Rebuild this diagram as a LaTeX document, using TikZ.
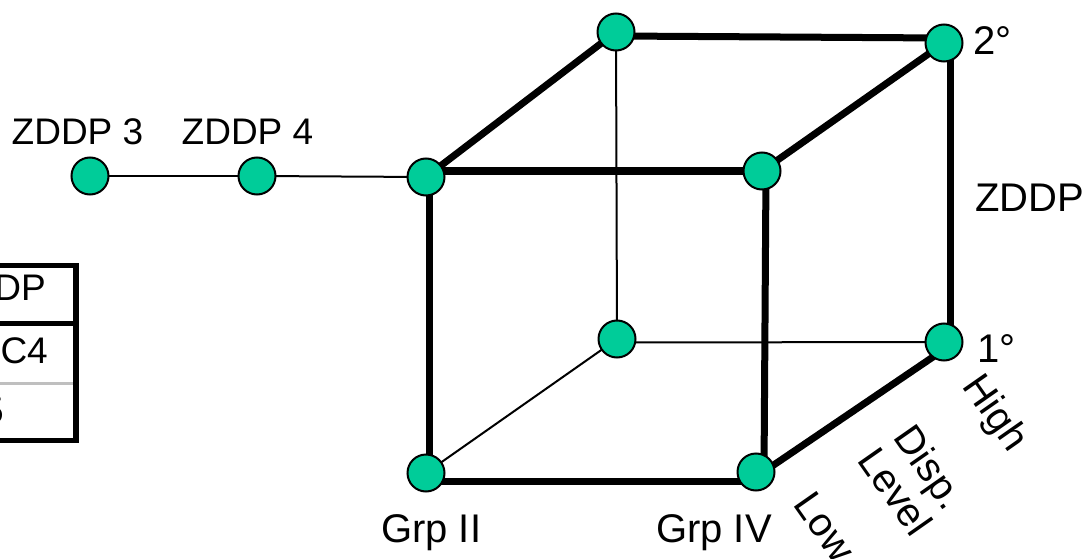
\documentclass[tikz,border=0pt]{standalone}
\usepackage{fontspec}
\setmainfont{Liberation Sans}
\usetikzlibrary{backgrounds}
\definecolor{dotgreen}{RGB}{0,204,153}
\tikzset{
  dot/.style={circle, draw=black, line width=2pt, fill=dotgreen, minimum size=37pt, inner sep=0pt},
  lbl/.style={inner sep=0pt, font=\fontsize{37}{40}\selectfont},
  biglbl/.style={inner sep=0pt, font=\fontsize{40}{42}\selectfont},
  thick edge/.style={line width=7pt},
  thin edge/.style={line width=2pt},
}
\begin{document}
\begin{tikzpicture}[x=1pt,y=1pt]
\useasboundingbox (0,0) rectangle (1087,-559);
\clip (0,0) rectangle (1087,-559);
% nodes
\node[dot] (z3) at (90,-176) {};
\node[dot] (z4) at (257,-176) {};
\node[dot] (tlf) at (426,-177) {};
\node[dot] (trf) at (762,-171) {};
\node[dot] (blf) at (426,-473) {};
\node[dot] (brf) at (756,-472) {};
\node[dot] (tlb) at (616,-32) {};
\node[dot] (trb) at (944,-43) {};
\node[dot] (blb) at (617,-339) {};
\node[dot] (brb) at (944,-342) {};
\begin{pgfonlayer}{background}
% thin edges
\draw[thin edge] (z3.center) -- (z4.center);
\draw[thin edge] (z4.center) -- (tlf.center);
\draw[thin edge] (tlb.center) -- (blb.center);
\draw[thin edge] ([yshift=-3.5pt]blb.center) -- (brb.center);
\draw[thin edge] (blb.center) -- (blf.center);
% thick edges
\draw[thick edge] ([yshift=6pt]tlf.center) -- (trf.center);
\draw[thick edge] (tlf.center) -- (tlb.center);
\draw[thick edge] ([yshift=-4pt]tlb.center) -- ([yshift=5pt]trb.center);
\draw[thick edge] (trf.center) -- (trb.center);
\draw[thick edge] ([xshift=6pt]trb.center) -- ([xshift=6pt]brb.center);
\draw[thick edge] ([xshift=3pt]tlf.center) -- ([xshift=3pt]blf.center);
\draw[thick edge] ([xshift=4pt]trf.center) -- ([xshift=8pt]brf.center);
\draw[thick edge] ([yshift=-8pt]blf.center) -- ([yshift=-9pt]brf.center);
\draw[thick edge] ([yshift=-5pt]brf.center) -- ([yshift=-7.5pt]brb.center);
\end{pgfonlayer}
% labels
\node[lbl, anchor=base] (l3) at (77.5,-145) {ZDDP 3};
\node[lbl, anchor=base] (l4) at (247.5,-145) {ZDDP 4};
\node[biglbl, anchor=base west] (l2deg) at (973,-55) {2°};
\node[biglbl, anchor=base west] (lz) at (975,-211) {ZDDP};
\node[biglbl, anchor=base west] (l1deg) at (977,-362) {1°};
\node[biglbl, anchor=base west] (lg2) at (381,-542) {Grp II};
\node[biglbl, anchor=base west] (lg4) at (656,-542) {Grp IV};
\node[biglbl, rotate=-55] (lhigh) at (994,-414) {High};
\node[biglbl, rotate=-55, align=center] (ldisp) at (913,-479) {Disp.\\Level};
\node[biglbl, rotate=-55] (llow) at (825,-527) {Low};
% table fragment
\draw[line width=5pt] (0,-265) -- (79,-265);
\draw[line width=6pt] (76,-265) -- (76,-440);
\draw[line width=5pt] (0,-323) -- (76,-323);
\draw[line width=3pt, gray!50] (0,-383) -- (73,-383);
\draw[line width=5pt] (0,-440) -- (79,-440);
\node[lbl, anchor=base east] (tdp) at (46,-300) {DP};
\node[lbl, anchor=base east] (tc4) at (48,-363) {C4};
\node[lbl, anchor=base east] (t5) at (4,-423) {5};
\end{tikzpicture}
\end{document}
